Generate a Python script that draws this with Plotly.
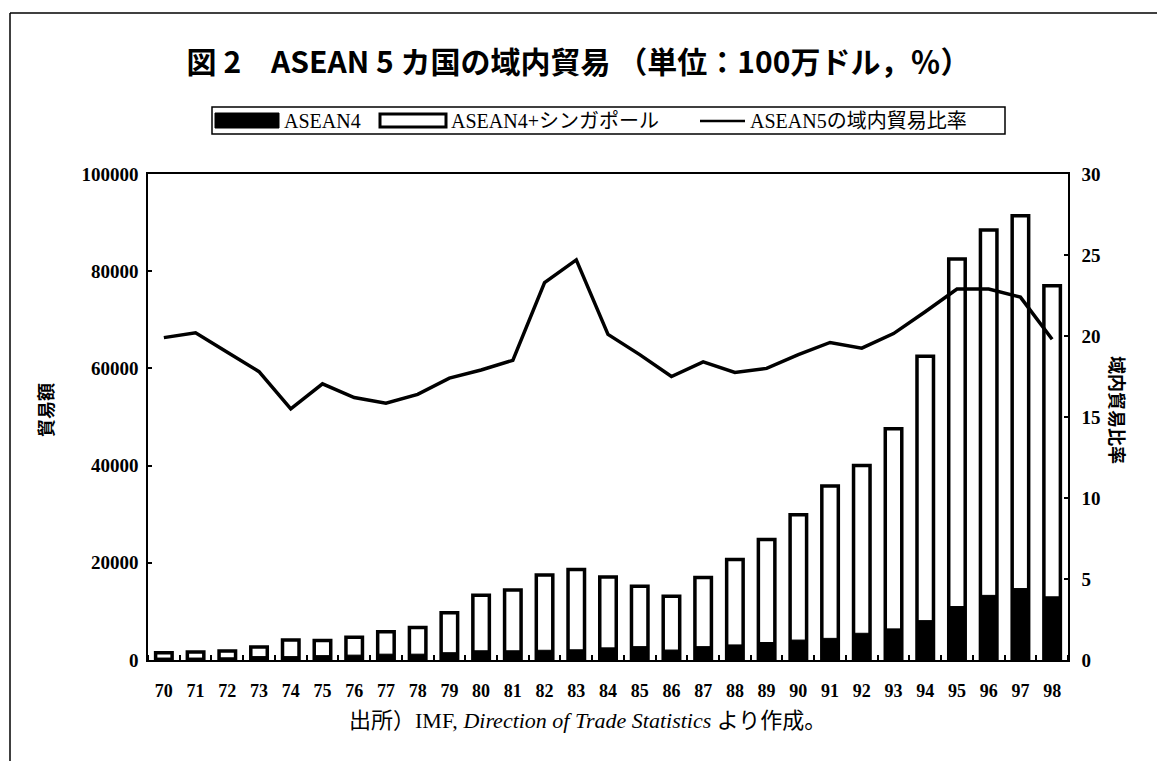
import plotly.graph_objects as go

years = list(range(70, 99))
year_labels = [str(y) for y in years]

# ASEAN4 + Singapore (total, million USD)
total_trade = [1500, 1650, 1850, 2700, 4100, 4000, 4700, 5800, 6700, 9700,
               13300, 14400, 17500, 18600, 17100, 15200, 13100, 17000, 20700, 24800,
               29900, 35800, 40000, 47600, 62500, 82500, 88500, 91400, 77000]
# ASEAN4 (million USD)
asean4_trade = [400, 400, 450, 700, 700, 900, 1000, 1200, 1200, 1500,
                1900, 1900, 2000, 2100, 2500, 2750, 2050, 2750, 3100, 3600,
                4100, 4450, 5500, 6400, 8100, 11000, 13300, 14700, 13000]
# ASEAN5 intra-regional trade ratio (%)
intra_ratio = [19.9, 20.2, 19.0, 17.8, 15.5, 17.05, 16.2, 15.85, 16.4, 17.4,
               17.9, 18.5, 23.3, 24.7, 20.1, 18.85, 17.5, 18.4, 17.75, 18.0,
               18.85, 19.6, 19.25, 20.15, 21.5, 22.9, 22.9, 22.4, 19.8]

left_ticks = [0, 20000, 40000, 60000, 80000, 100000]
right_ticks = [0, 5, 10, 15, 20, 25, 30]

legend_names = ["ASEAN4", "ASEAN4+シンガポール", "ASEAN5の域内貿易比率"]

serif = "Liberation Serif, Noto Sans CJK JP, serif"
gothic = "Noto Sans CJK JP, sans-serif"

fig = go.Figure()
fig.add_trace(go.Bar(
    x=years, y=total_trade, name=legend_names[1],
    marker=dict(color="white", line=dict(color="black", width=3.5)),
    width=0.52, showlegend=False,
))
fig.add_trace(go.Bar(
    x=years, y=asean4_trade, name=legend_names[0],
    marker=dict(color="black", line=dict(color="black", width=1)),
    width=0.52, showlegend=False,
))
fig.add_trace(go.Scatter(
    x=years, y=intra_ratio, name=legend_names[2], yaxis="y2",
    mode="lines", line=dict(color="black", width=3.5), showlegend=False,
))

W, H = 1157, 761
L, R, T, B = 148, 89, 174, 101
pw, ph = W - L - R, H - T - B

def px(x):
    return (x - L) / pw

def py(y):
    return (H - B - y) / ph

tickfont = dict(family=serif, size=19, color="black", weight="bold")

shapes = [
    # page frame
    dict(type="line", xref="paper", yref="paper", x0=px(10), x1=px(1157), y0=py(13), y1=py(13),
         line=dict(color="black", width=1.5)),
    dict(type="line", xref="paper", yref="paper", x0=px(10), x1=px(10), y0=py(13), y1=py(761),
         line=dict(color="black", width=1.5)),
    # legend box
    dict(type="rect", xref="paper", yref="paper", x0=px(212), x1=px(1005), y0=py(107), y1=py(134),
         line=dict(color="black", width=1.5), fillcolor="white", layer="above"),
    # legend swatches
    dict(type="rect", xref="paper", yref="paper", x0=px(215), x1=px(279), y0=py(113), y1=py(128),
         line=dict(color="black", width=1), fillcolor="black", layer="above"),
    dict(type="rect", xref="paper", yref="paper", x0=px(380), x1=px(446), y0=py(114), y1=py(127),
         line=dict(color="black", width=3), fillcolor="white", layer="above"),
    dict(type="line", xref="paper", yref="paper", x0=px(700), x1=px(745), y0=py(121), y1=py(121),
         line=dict(color="black", width=2.5), layer="above"),
]

legend_text_x = [282, 449, 748]

annotations = [
    dict(text="<b>貿易額</b>", xref="paper", yref="paper", x=px(45), y=py(410),
         xanchor="center", yanchor="middle",
         textangle=-90, showarrow=False, font=dict(family=gothic, size=18, color="black")),
    dict(text="<b>域内貿易比率</b>", xref="paper", yref="paper", x=px(1118), y=py(410),
         xanchor="center", yanchor="middle",
         textangle=90, showarrow=False, font=dict(family=gothic, size=18, color="black")),
    dict(text="出所）IMF, <i>Direction of Trade Statistics</i> より作成。",
         xref="paper", yref="paper", x=px(587), y=py(720), xanchor="center", yanchor="middle",
         showarrow=False, font=dict(family=serif, size=22, color="black")),
]
for name, tx in zip(legend_names, legend_text_x):
    annotations.append(dict(text=name, xref="paper", yref="paper", x=px(tx), y=py(121),
                            xanchor="left", yanchor="middle", showarrow=False,
                            font=dict(family=serif, size=20, color="black")))

fig.update_layout(
    width=W, height=H,
    margin=dict(l=L, r=R, t=T, b=B),
    paper_bgcolor="white", plot_bgcolor="white",
    barmode="overlay",
    showlegend=False,
    title=dict(text="<b>図 2　ASEAN 5 カ国の域内貿易 （単位：100万ドル，％）</b>",
               x=0.5, xanchor="center", y=1 - 62 / H, yanchor="middle",
               font=dict(family=gothic, size=30, color="black")),
    font=dict(family=serif, color="black"),
    xaxis=dict(range=[69.5, 98.5], tickmode="array", tickvals=years, ticktext=year_labels,
               ticks="", showgrid=False, zeroline=False, ticklabelstandoff=14,
               showline=True, linecolor="black", linewidth=1.5, mirror=True,
               tickfont=dict(family=serif, size=18, color="black", weight="bold"),
               minor=dict(ticks="inside", ticklen=5, tickcolor="black", tickwidth=1.5,
                          tick0=69.5, dtick=1, showgrid=False)),
    yaxis=dict(range=[0, 100000], tickmode="array", tickvals=left_ticks,
               ticktext=[str(v) for v in left_ticks],
               ticks="inside", ticklen=4, tickcolor="black", tickwidth=1.5,
               showgrid=False, zeroline=False, ticklabelstandoff=4,
               showline=True, linecolor="black", linewidth=1.5,
               tickfont=tickfont),
    yaxis2=dict(range=[0, 30], overlaying="y", side="right", tickmode="array",
                tickvals=right_ticks, ticktext=[str(v) for v in right_ticks],
                ticks="inside", ticklen=4, tickcolor="black", tickwidth=1.5,
                showgrid=False, zeroline=False, ticklabelstandoff=8,
                showline=True, linecolor="black", linewidth=1.5,
                tickfont=tickfont),
    annotations=annotations,
    shapes=shapes,
)

fig.write_html("out.html")
